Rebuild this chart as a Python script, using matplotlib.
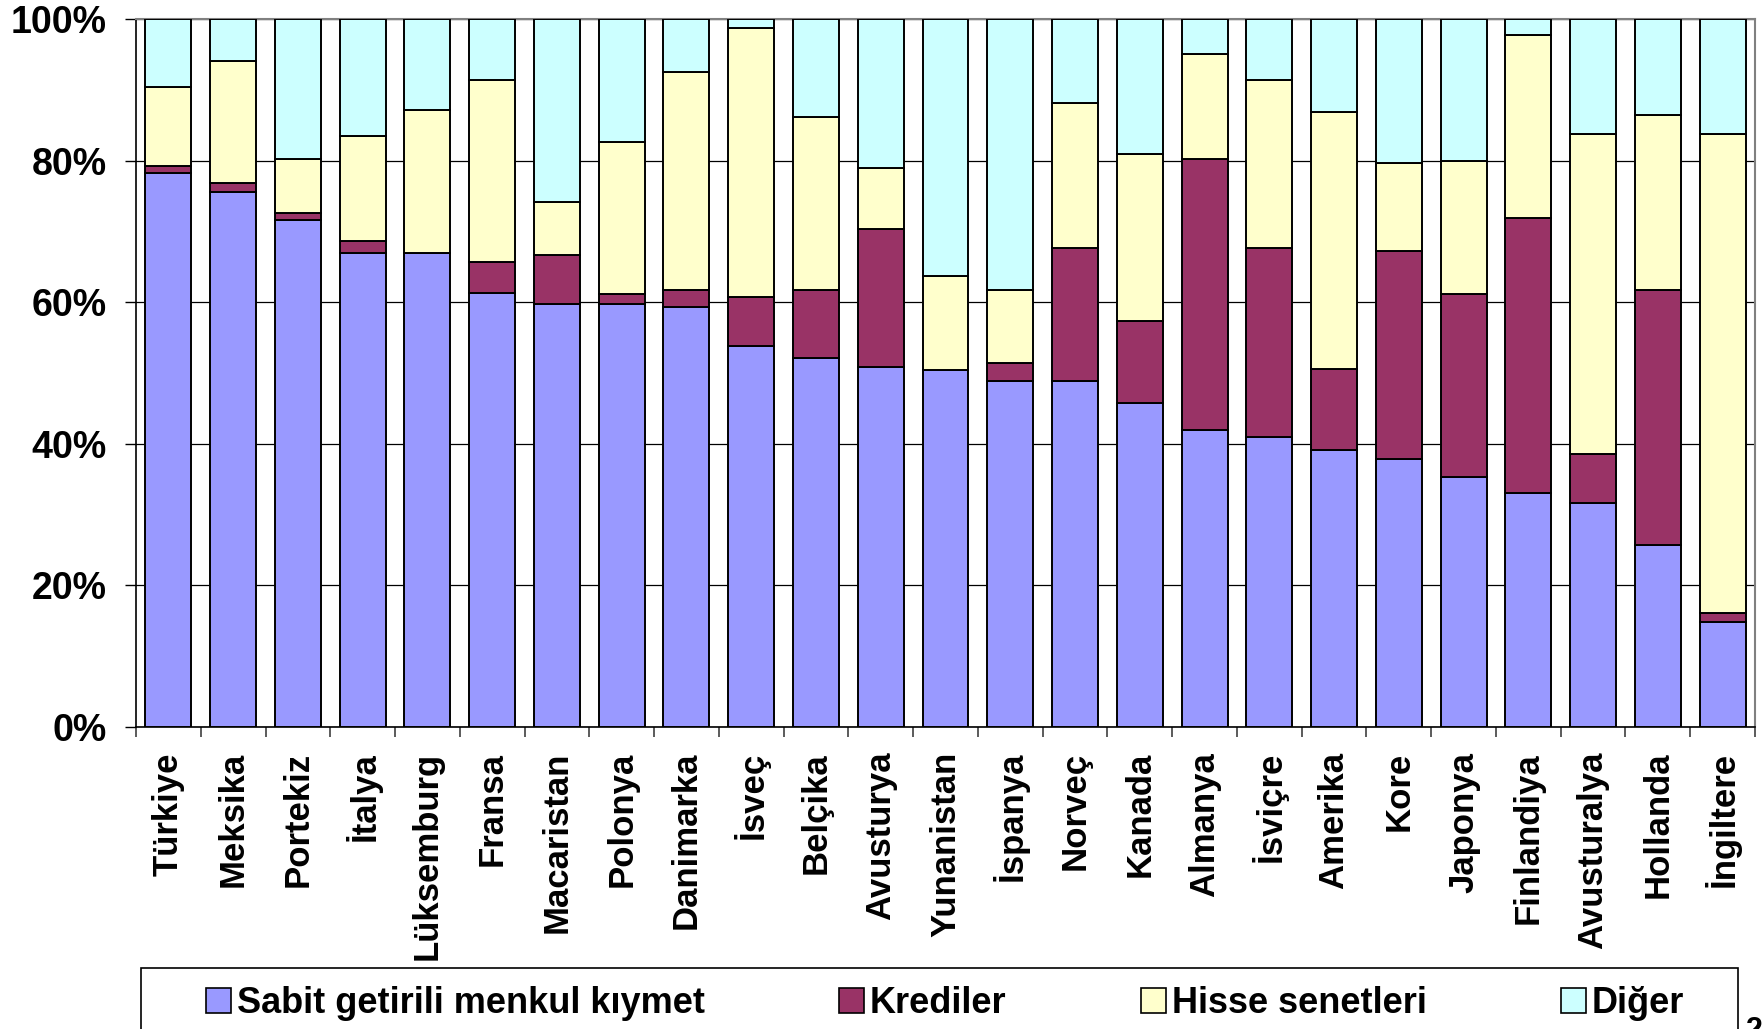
import numpy as np
import matplotlib
matplotlib.use('Agg')
import matplotlib.pyplot as plt
from matplotlib.patches import Patch, Rectangle

plt.rcParams['font.family'] = ['Liberation Sans', 'DejaVu Sans']
plt.rcParams['font.weight'] = 'bold'

countries = ['Türkiye', 'Meksika', 'Portekiz', 'İtalya', 'Lüksemburg', 'Fransa',
             'Macaristan', 'Polonya', 'Danimarka', 'İsveç', 'Belçika', 'Avusturya',
             'Yunanistan', 'İspanya', 'Norveç', 'Kanada', 'Almanya', 'İsviçre',
             'Amerika', 'Kore', 'Japonya', 'Finlandiya', 'Avusturalya', 'Hollanda',
             'İngiltere']

sabit = [78.2, 75.5, 71.6, 66.9, 66.9, 61.3, 59.7, 59.7, 59.3, 53.8, 52.1, 50.8, 50.4,
         48.8, 48.8, 45.8, 41.9, 40.9, 39.1, 37.9, 35.3, 33.0, 31.7, 25.7, 14.8]
krediler = [1.0, 1.4, 1.0, 1.7, 0.0, 4.4, 7.0, 1.4, 2.4, 6.9, 9.6, 19.5, 0.0,
            2.6, 18.9, 11.6, 38.3, 26.8, 11.4, 29.4, 25.8, 38.9, 6.8, 36.0, 1.3]
hisse = [11.2, 17.2, 7.6, 14.9, 20.2, 25.7, 7.5, 21.5, 30.8, 38.0, 24.5, 8.7, 13.3,
         10.3, 20.5, 23.5, 14.8, 23.7, 36.3, 12.3, 18.8, 25.8, 45.3, 24.8, 67.7]
diger = [9.6, 5.9, 19.8, 16.5, 12.9, 8.6, 25.8, 17.4, 7.5, 1.3, 13.8, 21.0, 36.3,
         38.3, 11.8, 19.1, 5.0, 8.6, 13.2, 20.4, 20.1, 2.3, 16.2, 13.5, 16.2]

series = [('Sabit getirili menkul kıymet', sabit, '#9999FF'),
          ('Krediler', krediler, '#993366'),
          ('Hisse senetleri', hisse, '#FFFFCC'),
          ('Diğer', diger, '#CCFFFF')]

W, H = 1764, 1029
fig = plt.figure(figsize=(W / 100, H / 100), dpi=100)
ax = fig.add_axes([136 / W, 1 - 727 / H, (1755 - 136) / W, (727 - 19) / H])

x = np.arange(len(countries))
bottom = np.zeros(len(countries))
for name, vals, col in series:
    vals = np.array(vals)
    ax.bar(x, vals, width=0.71, bottom=bottom, color=col, edgecolor='black',
           linewidth=1.4, zorder=3)
    bottom += vals

ax.set_xlim(-0.5, len(countries) - 0.5)
ax.set_ylim(0, 100)
ax.set_yticks(np.arange(0, 101, 20))
ax.set_yticklabels([f'{v}%' for v in range(0, 101, 20)], fontsize=27, fontweight='bold')
ax.set_xticks(x)
ax.set_xticklabels(countries, rotation=90, fontsize=25, fontweight='bold')
ax.set_xticks(np.arange(-0.5, len(countries), 1), minor=True)
ax.tick_params(axis='x', which='major', length=0, pad=18)
ax.tick_params(axis='x', which='minor', length=7, width=1.2, color='#404040')
ax.tick_params(axis='y', length=8, width=1, pad=13)

ax.yaxis.grid(True, color='black', linewidth=0.9)
ax.set_axisbelow(True)
for s in ['left', 'bottom']:
    ax.spines[s].set_color('black')
    ax.spines[s].set_linewidth(1.2)
for s in ['top', 'right']:
    ax.spines[s].set_color('#808080')
    ax.spines[s].set_linewidth(1.5)

# legend box, runs off the bottom of the picture
fig.add_artist(Rectangle((141 / W, -0.1), (1738 - 141) / W, 0.1 + (H - 968) / H,
                         transform=fig.transFigure, fill=False,
                         edgecolor='black', linewidth=1.2))
handles = [Patch(facecolor=c, edgecolor='black', linewidth=1.2) for _, _, c in series]
labels = [n for n, _, _ in series]
fig.legend(handles, labels, loc='upper left', ncol=4, mode='expand',
           bbox_to_anchor=(206 / W, 1 - 986 / H, (1684 - 206) / W, 0),
           frameon=False, borderpad=0, borderaxespad=0, handlelength=0.7,
           handleheight=0.7, handletextpad=0.15,
           prop={'size': 26, 'weight': 'bold'})

fig.text(1746 / W, 1 - 1016 / H, '2', fontsize=22, va='top', ha='left')

fig.savefig('out.png', dpi=100)
